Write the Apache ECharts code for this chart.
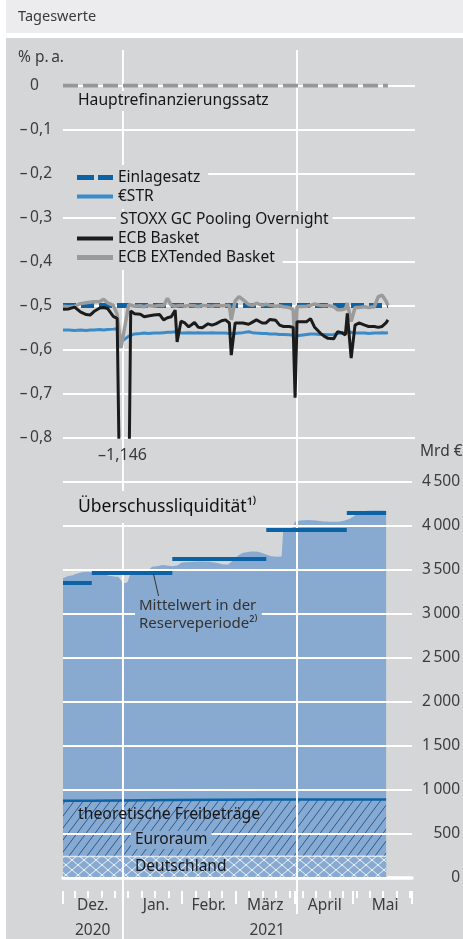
<!DOCTYPE html>
<html>
<head>
<meta charset="utf-8">
<script src="https://cdn.jsdelivr.net/npm/echarts@6/dist/echarts.min.js"></script>
<style>
html, body { margin: 0; padding: 0; background: #fff; }
#wrap { position: relative; width: 463px; height: 939px; overflow: hidden; }
#head { position: absolute; left: 6px; top: 0; width: 457px; height: 33px; background: #ececee; }
#panel { position: absolute; left: 6px; top: 38px; width: 457px; height: 901px; background: #d5d6d8; }
#main { position: absolute; left: 0; top: 0; width: 463px; height: 939px; }
</style>
</head>
<body>
<div id="wrap"><div id="head"></div><div id="panel"></div><div id="main"></div></div>
<script>
// x = Tage seit 1.12.2020
const rateDays = [0,3,6,9,12,14,16,19,21,23,26,28,30,34,35,37,40,42,44,47,50,52,54,56,58,59,61,63,65,68,70,72,75,77,79,82,84,86,87,89,91,93,96,98,100,103,105,107,110,112,114,117,119,120,121,126,128,130,133,135,137,140,142,144,146,147,149,151,153,156,158,161,163,165,167,168];
const estr = [-0.556,-0.556,-0.557,-0.556,-0.557,-0.556,-0.556,-0.555,-0.556,-0.555,-0.554,-0.553,-0.583,-0.570,-0.566,-0.565,-0.564,-0.563,-0.564,-0.563,-0.563,-0.562,-0.561,-0.561,-0.560,-0.562,-0.563,-0.563,-0.562,-0.563,-0.562,-0.563,-0.563,-0.562,-0.563,-0.563,-0.563,-0.564,-0.565,-0.564,-0.563,-0.562,-0.560,-0.562,-0.563,-0.564,-0.564,-0.565,-0.565,-0.566,-0.566,-0.567,-0.568,-0.572,-0.569,-0.566,-0.565,-0.565,-0.566,-0.566,-0.567,-0.566,-0.564,-0.563,-0.562,-0.560,-0.561,-0.563,-0.563,-0.563,-0.564,-0.563,-0.563,-0.562,-0.563,-0.562];
const ecbBasket = [-0.509,-0.508,-0.504,-0.515,-0.521,-0.522,-0.514,-0.506,-0.505,-0.507,-0.525,-0.530,-1.146,-0.950,-0.513,-0.519,-0.520,-0.526,-0.524,-0.522,-0.521,-0.533,-0.528,-0.526,-0.511,-0.583,-0.536,-0.540,-0.549,-0.539,-0.550,-0.551,-0.542,-0.545,-0.542,-0.535,-0.533,-0.540,-0.613,-0.540,-0.540,-0.540,-0.543,-0.538,-0.533,-0.540,-0.540,-0.532,-0.534,-0.545,-0.548,-0.548,-0.550,-0.710,-0.537,-0.537,-0.530,-0.549,-0.563,-0.570,-0.575,-0.576,-0.560,-0.562,-0.567,-0.518,-0.620,-0.545,-0.540,-0.545,-0.548,-0.548,-0.550,-0.548,-0.540,-0.533];
const ecbExtended = [-0.502,-0.503,-0.502,-0.496,-0.494,-0.493,-0.492,-0.491,-0.486,-0.494,-0.500,-0.520,-0.597,-0.498,-0.499,-0.502,-0.501,-0.503,-0.500,-0.502,-0.500,-0.501,-0.484,-0.500,-0.502,-0.503,-0.500,-0.502,-0.500,-0.501,-0.503,-0.500,-0.501,-0.502,-0.500,-0.501,-0.500,-0.500,-0.533,-0.490,-0.480,-0.487,-0.498,-0.500,-0.495,-0.500,-0.497,-0.500,-0.502,-0.501,-0.503,-0.505,-0.510,-0.600,-0.503,-0.502,-0.500,-0.497,-0.500,-0.501,-0.500,-0.503,-0.510,-0.510,-0.508,-0.495,-0.537,-0.505,-0.505,-0.503,-0.505,-0.503,-0.480,-0.477,-0.490,-0.500];
const policyDays = [0, 168];
const depositRate = [-0.5, -0.5];
const mroRate = [0, 0];

const liqDays = [0,2,5,7,10,13,15.5,18,21,24,27,29,30.5,32,33.6,35,37,40,43,45,46.5,49,52,54,57,59.5,62,66,71,76,80,83,86,88,89.5,91.5,94,98,101,103,106,108.5,112,114,114.8,116,119,121,123.5,127.5,132,136,140,144,147,149.5,151.5,153.5,156,158.5,162,165.5,168.5];
const liqValues = [3400,3420,3435,3450,3468,3475,3465,3455,3448,3430,3420,3415,3370,3344,3355,3440,3460,3470,3478,3500,3530,3535,3550,3545,3535,3545,3578,3585,3590,3588,3575,3560,3552,3590,3620,3660,3690,3705,3705,3692,3670,3650,3645,3648,3925,3930,3940,4040,4055,4060,4055,4045,4040,4042,4055,4075,4100,4130,4150,4165,4170,4168,4165];

// Reserveperioden
const periodStart = [0, 15, 57, 106, 148];
const periodEnd = [15, 57, 106, 148, 168.5];
const periodMean = [3351, 3468, 3616, 3951, 4141];
const exemptEA = [876, 884, 890, 890, 890];
const exemptDE = [244, 245, 246, 246, 246];

const weekTicks = [6,13,20,27,34,41,48,55,62,69,76,83,90,97,104,111,118,125,132,139,146,153,160,167,174,181];
const monthTicks = [0, 31, 62, 90, 121, 151, 182];
const monthLabelDays = [15.5, 48.5, 76, 105.5, 136.5, 168];
const monthLabels = ['Dez.', 'Jan.', 'Febr.', 'März', 'April', 'Mai'];
const yearLabelDays = [15.5, 106.5];
const yearLabels = ['2020', '2021'];
const yearLines = [[31, 0, 889], [121, 0, 864]];

const FONT = 'Noto Sans';
const AREA = '#88a9d0';
const PANEL = '#d5d6d8';
const DARKBLUE = '#0b63a5';

function pairs(xs, ys) { return xs.map((x, i) => [x, ys[i]]); }
function steps(vals) {
  const out = [];
  vals.forEach((v, i) => { out.push([periodStart[i], v]); out.push([periodEnd[i], v]); });
  return out;
}
function hatch(w, h, bg, strokes) {
  const c = document.createElement('canvas');
  c.width = w; c.height = h;
  const g = c.getContext('2d');
  if (bg) { g.fillStyle = bg; g.fillRect(0, 0, w, h); }
  strokes.forEach(([color, dir]) => {
    g.strokeStyle = color; g.lineWidth = 1;
    g.beginPath();
    for (let k = -1; k <= 1; k++) {
      if (dir > 0) { g.moveTo(k * w, h); g.lineTo(k * w + w, 0); }
      else { g.moveTo(k * w, 0); g.lineTo(k * w + w, h); }
    }
    g.stroke();
  });
  return c;
}
const patEA = hatch(9, 12, null, [['rgba(15,80,150,0.85)', 1]]);
const patDE = hatch(12, 10, AREA, [['rgba(255,255,255,0.85)', 1], ['rgba(255,255,255,0.85)', -1]]);

function rateLabel(v) {
  if (Math.abs(v) < 1e-9) return '0{h|,0}';
  return '\u2013\u2009' + Math.abs(v).toFixed(1).replace('.', ',');
}
function bnLabel(v) {
  if (v < 1000) return String(v);
  return Math.floor(v / 1000) + '\u2009' + String(v % 1000).padStart(3, '0');
}

const lblStyle = { fontFamily: FONT, fontSize: 15.5, color: '#3c3c3c' };
const legendText = { fontFamily: FONT, fontSize: 15.5, color: '#161616', lineHeight: 17 };
const txt = (size) => size + 'px "Noto Sans"';

const chart = echarts.init(document.getElementById('main'), null, { renderer: 'canvas' });
chart.setOption({
  animation: false,
  grid: [
    { left: 63, right: 48, top: 85.5, height: 351.8 },
    { left: 63, right: 48, top: 481.3, height: 397 },
    { left: 63, right: 48, top: 50, bottom: 0 }
  ],
  xAxis: [
    { gridIndex: 0, type: 'value', min: 0, max: 182, show: false },
    { gridIndex: 1, type: 'value', min: 0, max: 182, position: 'bottom',
      axisLine: { show: true, lineStyle: { color: '#fff', width: 3.5 } },
      axisTick: { show: false }, axisLabel: { show: false }, splitLine: { show: false } },
    { gridIndex: 1, type: 'value', min: 0, max: 182, position: 'bottom', offset: 13,
      axisLine: { show: false },
      axisTick: { show: true, customValues: weekTicks, length: 7, lineStyle: { color: '#fff', width: 2 } },
      axisLabel: { show: false }, splitLine: { show: false } },
    { gridIndex: 1, type: 'value', min: 0, max: 182, position: 'bottom', offset: 13,
      axisLine: { show: false },
      axisTick: { show: true, customValues: monthTicks, length: 13, lineStyle: { color: '#fff', width: 2 } },
      axisLabel: { show: true, customValues: monthLabelDays, margin: 7, ...lblStyle,
        formatter: v => monthLabels[monthLabelDays.indexOf(v)] },
      splitLine: { show: false } },
    { gridIndex: 1, type: 'value', min: 0, max: 182, position: 'bottom', offset: 13,
      axisLine: { show: false }, axisTick: { show: false },
      axisLabel: { show: true, customValues: yearLabelDays, margin: 32, ...lblStyle,
        formatter: v => yearLabels[yearLabelDays.indexOf(v)] },
      splitLine: { show: false } },
    { gridIndex: 2, type: 'value', min: 0, max: 182, show: false }
  ],
  yAxis: [
    { gridIndex: 0, type: 'value', min: -0.8, max: 0, interval: 0.1, position: 'left',
      axisLine: { show: false }, axisTick: { show: false },
      splitLine: { show: true, lineStyle: { color: '#fff', width: 2 } },
      axisLabel: { margin: 11, ...lblStyle, formatter: rateLabel,
        rich: { h: { color: 'transparent', fontFamily: FONT, fontSize: 15.5 } } } },
    { gridIndex: 1, type: 'value', min: 0, max: 4500, interval: 500, position: 'right', z: 10,
      axisLine: { show: false }, axisTick: { show: false },
      splitLine: { show: true, lineStyle: { color: '#fff', width: 2 } },
      axisLabel: { margin: 48, align: 'right', ...lblStyle, formatter: bnLabel } },
    { gridIndex: 2, type: 'value', min: 0, max: 889, inverse: true, show: false }
  ],
  legend: [
    { left: 63, top: 165, orient: 'vertical', padding: [4, 8, 4, 14], itemGap: 2,
      itemWidth: 36, itemHeight: 5, backgroundColor: PANEL, selectedMode: false, z: 20,
      itemStyle: { borderWidth: 0 }, textStyle: legendText,
      data: [{ name: 'Einlagesatz', icon: 'path://M0,0H17V5H0Z M21,0H36V5H21Z' },
             { name: '€STR', icon: 'path://M0,0.5H36V4.5H0Z' }] },
    { left: 63, top: 226, orient: 'vertical', padding: [4, 8, 4, 14], itemGap: 2,
      itemWidth: 36, itemHeight: 5, backgroundColor: PANEL, selectedMode: false, z: 20,
      itemStyle: { borderWidth: 0 }, textStyle: legendText,
      data: [{ name: 'ECB Basket', icon: 'path://M0,0.5H36V4.5H0Z' },
             { name: 'ECB EXTended Basket', icon: 'rect' }] }
  ],
  series: [
    { name: 'Hauptrefinanzierungssatz', type: 'line', xAxisIndex: 0, yAxisIndex: 0, z: 14,
      data: pairs(policyDays, mroRate), showSymbol: false, color: '#979797',
      lineStyle: { color: '#979797', width: 4, type: [15, 5] } },
    { name: 'Einlagesatz', type: 'line', xAxisIndex: 0, yAxisIndex: 0, z: 14,
      data: pairs(policyDays, depositRate), showSymbol: false, color: DARKBLUE,
      lineStyle: { color: DARKBLUE, width: 5, type: [13, 5] } },
    { name: '€STR', type: 'line', xAxisIndex: 0, yAxisIndex: 0, z: 15,
      data: pairs(rateDays, estr), showSymbol: false, color: '#3a8bc8',
      lineStyle: { color: '#3a8bc8', width: 3 } },
    { name: 'ECB EXTended Basket', type: 'line', xAxisIndex: 0, yAxisIndex: 0, z: 16,
      data: pairs(rateDays, ecbExtended), showSymbol: false, color: '#9b9b9b',
      lineStyle: { color: '#9b9b9b', width: 3.5 } },
    { name: 'ECB Basket', type: 'line', xAxisIndex: 0, yAxisIndex: 0, z: 17,
      data: pairs(rateDays, ecbBasket), showSymbol: false, color: '#1b1b1b',
      lineStyle: { color: '#1b1b1b', width: 3 } },
    { name: 'Überschussliquidität', type: 'line', xAxisIndex: 1, yAxisIndex: 1, z: 2,
      data: pairs(liqDays, liqValues), showSymbol: false,
      lineStyle: { width: 0 }, areaStyle: { color: AREA, opacity: 1 } },
    { name: 'Euroraum', type: 'line', xAxisIndex: 1, yAxisIndex: 1, z: 3,
      data: steps(exemptEA), showSymbol: false,
      lineStyle: { color: DARKBLUE, width: 2.5 },
      areaStyle: { color: { image: patEA, repeat: 'repeat' }, opacity: 1 } },
    { name: 'Deutschland', type: 'line', xAxisIndex: 1, yAxisIndex: 1, z: 4,
      data: steps(exemptDE), showSymbol: false,
      lineStyle: { color: 'rgba(255,255,255,0.7)', width: 1.5 },
      areaStyle: { color: { image: patDE, repeat: 'repeat' }, opacity: 1 } },
    { name: 'Mittelwert', type: 'lines', coordinateSystem: 'cartesian2d', xAxisIndex: 1, yAxisIndex: 1, z: 12,
      data: periodMean.map((m, i) => ({ coords: [[periodStart[i], m], [periodEnd[i], m]] })),
      lineStyle: { color: DARKBLUE, width: 4, opacity: 1 } },
    { name: 'Jahreslinien', type: 'custom', xAxisIndex: 5, yAxisIndex: 2, z: 11, silent: true, clip: false,
      data: yearLines, encode: { x: 0, y: [1, 2] },
      renderItem: (params, api) => {
        const a = api.coord([api.value(0), api.value(1)]);
        const b = api.coord([api.value(0), api.value(2)]);
        return { type: 'line', shape: { x1: a[0], y1: a[1], x2: b[0], y2: b[1] },
          style: { stroke: '#fff', lineWidth: 2 } };
      } }
  ],
  graphic: [
    { type: 'text', z: 20, style: { text: 'Tageswerte', x: 18, y: 17, verticalAlign: 'middle', textVerticalAlign: 'middle', font: txt(14.5), fill: '#3a3a3a' } },
    { type: 'text', z: 20, style: { text: '% p.\u2009a.', x: 18, y: 58, verticalAlign: 'middle', textVerticalAlign: 'middle', font: txt(15.5), fill: '#3a3a3a' } },
    { type: 'text', z: 20, style: { text: 'Hauptrefinanzierungssatz', x: 74, y: 101, verticalAlign: 'middle', textVerticalAlign: 'middle', font: txt(15.7), fill: '#161616', backgroundColor: PANEL, padding: [2, 4] } },
    { type: 'text', z: 20, style: { text: 'STOXX GC Pooling Overnight', x: 116, y: 220, verticalAlign: 'middle', textVerticalAlign: 'middle', font: txt(15.5), fill: '#161616', backgroundColor: PANEL, padding: [1, 4] } },
    { type: 'text', z: 20, style: { text: '\u20131,146', x: 122.5, y: 455, align: 'center', textAlign: 'center', verticalAlign: 'middle', textVerticalAlign: 'middle', font: txt(16), fill: '#3a3a3a' } },
    { type: 'text', z: 20, style: { text: 'Mrd €', x: 420, y: 452, verticalAlign: 'middle', textVerticalAlign: 'middle', font: txt(15.5), fill: '#3a3a3a' } },
    { type: 'text', z: 20, style: { text: 'Überschussliquidität¹⁾', x: 74, y: 507, verticalAlign: 'middle', textVerticalAlign: 'middle', font: txt(17.5), fill: '#111', backgroundColor: PANEL, padding: [7, 4] } },
    { type: 'line', z: 20, shape: { x1: 153.5, y1: 574, x2: 159, y2: 598 }, style: { stroke: '#333', lineWidth: 1 } },
    { type: 'text', z: 20, style: { text: 'Mittelwert in der\nReserveperiode²⁾', x: 135, y: 614.5, lineHeight: 17.6, verticalAlign: 'middle', textVerticalAlign: 'middle', font: txt(15), fill: '#333', backgroundColor: AREA, padding: [1, 4] } },
    { type: 'text', z: 20, style: { text: 'theoretische Freibeträge', x: 78, y: 814, verticalAlign: 'middle', textVerticalAlign: 'middle', font: txt(15.8), fill: '#161616' } },
    { type: 'text', z: 20, style: { text: 'Euroraum', x: 131, y: 840, verticalAlign: 'middle', textVerticalAlign: 'middle', font: txt(15.5), fill: '#161616', backgroundColor: AREA, padding: [1, 4] } },
    { type: 'text', z: 20, style: { text: 'Deutschland', x: 135, y: 866.5, verticalAlign: 'middle', textVerticalAlign: 'middle', font: txt(15.5), fill: '#161616' } }
  ]
});
</script>
</body>
</html>
